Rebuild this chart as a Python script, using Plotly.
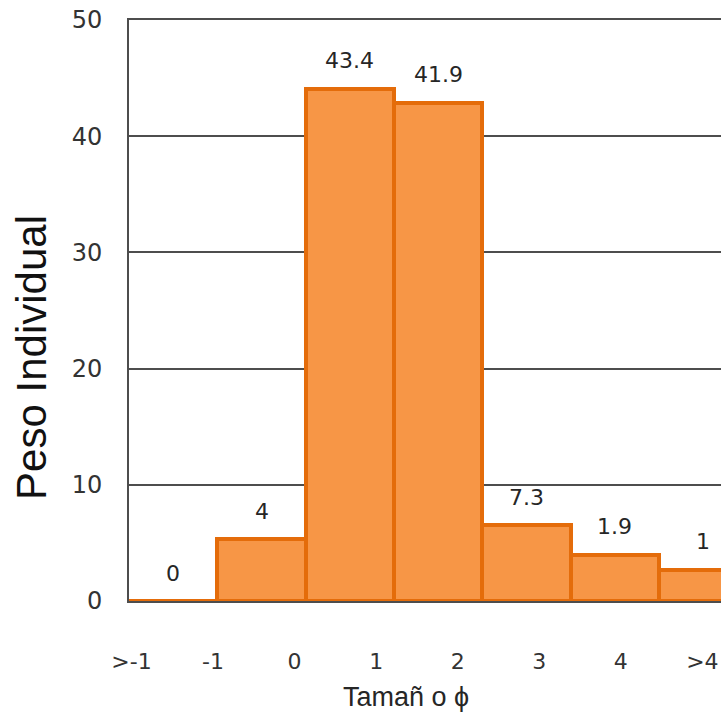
import plotly.graph_objects as go

# Data
bar_heights = [0, 5.3, 44.1, 42.9, 6.5, 4.0, 2.7]          # visual bar heights
bar_labels = ["0", "4", "43.4", "41.9", "7.3", "1.9", "1"]   # printed values
tick_labels = [">-1", "-1", "0", "1", "2", "3", "4", ">4"]   # x-axis labels (bin edges)
y_ticks = [0, 10, 20, 30, 40, 50]

bar_x = [i + 0.5 for i in range(len(bar_heights))]
tick_idx = list(range(len(tick_labels)))

fig = go.Figure()
fig.add_trace(go.Bar(
    x=bar_x,
    y=bar_heights,
    width=1,
    marker=dict(color="#F79646", line=dict(color="#E46C0A", width=4)),
    cliponaxis=False,
    showlegend=False,
    hoverinfo="skip",
))
# carrier trace so the label axis is drawn
fig.add_trace(go.Scatter(
    x=tick_idx, y=[0] * len(tick_idx), xaxis="x2", yaxis="y",
    mode="none", showlegend=False, hoverinfo="skip",
))

annotations = [
    dict(x=bx, y=h, xref="x", yref="y", text=lab, showarrow=False,
         xanchor="center", yanchor="middle", yshift=28,
         font=dict(family="DejaVu Sans", size=22, color="#262626"))
    for bx, h, lab in zip(bar_x, bar_heights, bar_labels)
]
annotations += [
    dict(text="Peso Individual", textangle=-90, xref="paper", yref="paper",
         x=-0.164, y=0.42, xanchor="center", yanchor="middle", showarrow=False,
         font=dict(family="Liberation Sans, Arial, sans-serif", size=42, color="#111111")),
    dict(text="Tamañ o ϕ", xref="paper", yref="paper",
         x=0.468, y=-0.165, xanchor="center", yanchor="middle", showarrow=False,
         font=dict(family="Liberation Sans, Arial, sans-serif", size=27, color="#262626")),
]

fig.update_layout(
    width=721, height=719,
    margin=dict(l=129, r=0, t=20, b=118, pad=0),
    paper_bgcolor="white", plot_bgcolor="white",
    bargap=0,
    font=dict(family="Liberation Sans, Arial, sans-serif", color="#262626"),
    xaxis=dict(
        range=[0, 6.7], showticklabels=False, showgrid=False, zeroline=False,
        showline=True, mirror=True, linecolor="#4d4d4d", linewidth=2, ticks="",
        layer="below traces",
    ),
    xaxis2=dict(
        overlaying="x", anchor="y", side="bottom",
        range=[-0.03, 7.228],
        tickmode="array",
        tickvals=tick_idx,
        ticktext=tick_labels,
        tickfont=dict(family="DejaVu Sans", size=22, color="#333333"),
        ticks="", ticklabelstandoff=45, ticklabeloverflow="allow",
        showgrid=False, zeroline=False, showline=False,
    ),
    yaxis=dict(
        range=[0, 50], tickmode="array", tickvals=y_ticks,
        showgrid=True, gridcolor="#4d4d4d", gridwidth=1.5,
        showline=True, linecolor="#4d4d4d", linewidth=2,
        zeroline=False, ticks="", ticklabelstandoff=20, ticklabeloverflow="allow",
        tickfont=dict(family="DejaVu Sans", size=24, color="#333333"),
    ),
    annotations=annotations,
)

fig.write_html(
    "out.html",
    config={"displayModeBar": False},
    post_script="document.body.style.margin='0';document.body.style.overflow='hidden';",
)
